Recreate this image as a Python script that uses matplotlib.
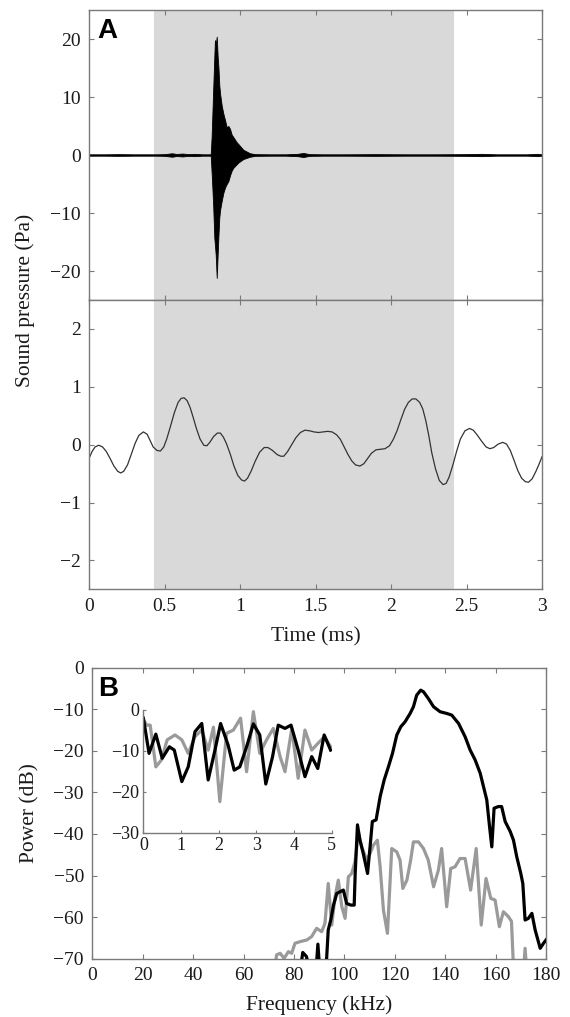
import numpy as np
import matplotlib
matplotlib.use('Agg')
import matplotlib.pyplot as plt

plt.rcParams['font.family'] = ['Liberation Serif', 'DejaVu Serif']
plt.rcParams['axes.unicode_minus'] = True

# --- panel A, top: click waveform envelope (Pa) ---
click_t = [0.0, 0.1, 0.2, 0.3, 0.4, 0.45, 0.5, 0.55, 0.58, 0.62, 0.66, 0.7, 0.75, 0.806,
           0.812, 0.817, 0.823, 0.830, 0.834, 0.839, 0.846, 0.852, 0.857, 0.863, 0.868,
           0.879, 0.890, 0.901, 0.912, 0.923, 0.934, 0.945, 0.956, 0.978, 0.989, 1.022,
           1.033, 1.066, 1.1, 1.2, 1.3, 1.38, 1.42, 1.46, 1.55, 1.7, 1.9, 2.1, 2.3, 2.5,
           2.6, 2.7, 2.8, 2.9, 2.97, 3.0]
click_hi = [0.12, 0.12, 0.15, 0.12, 0.12, 0.12, 0.15, 0.3, 0.18, 0.25, 0.15, 0.2, 0.12, 0.12,
            3.1, 7.0, 11.7, 17.0, 19.8, 19.0, 20.4, 17.0, 15.2, 12.0, 10.6,
            8.5, 7.1, 6.0, 4.8, 5.0, 4.5, 3.5, 3.1, 2.2, 1.9, 0.9,
            0.75, 0.3, 0.15, 0.12, 0.12, 0.2, 0.35, 0.15, 0.12, 0.12, 0.15, 0.12, 0.12, 0.15,
            0.2, 0.12, 0.12, 0.12, 0.2, 0.12]
click_lo = [-v for v in click_hi[:14]] + \
           [-3.0, -5.6, -9.1, -14.3, -15.5, -17.2, -21.2, -17.2, -14.0, -10.8, -9.5,
            -7.9, -6.5, -5.6, -5.0, -4.5, -3.5, -2.7, -2.2, -1.6, -1.3, -0.7,
            -0.6] + [-v for v in click_hi[37:]]

# --- panel A, bottom: low-frequency trace (Pa) ---
slow_t = [0.000, 0.020, 0.040, 0.065, 0.090, 0.115, 0.140, 0.165, 0.190, 0.210, 0.230, 0.255,
          0.281, 0.305, 0.330, 0.360, 0.385, 0.405, 0.425, 0.450, 0.473, 0.495, 0.515, 0.540,
          0.565, 0.590, 0.610, 0.630, 0.650, 0.670, 0.690, 0.710, 0.735, 0.760, 0.780, 0.800,
          0.825, 0.850, 0.870, 0.890, 0.910, 0.935, 0.960, 0.985, 1.010, 1.030, 1.050, 1.075,
          1.100, 1.130, 1.160, 1.185, 1.215, 1.245, 1.270, 1.290, 1.315, 1.340, 1.370, 1.400,
          1.430, 1.460, 1.490, 1.520, 1.550, 1.580, 1.610, 1.640, 1.665, 1.690, 1.715, 1.740,
          1.765, 1.794, 1.820, 1.845, 1.870, 1.900, 1.930, 1.960, 1.990, 2.015, 2.040, 2.065,
          2.090, 2.115, 2.140, 2.165, 2.190, 2.210, 2.230, 2.250, 2.270, 2.295, 2.320, 2.345,
          2.365, 2.385, 2.410, 2.435, 2.460, 2.490, 2.520, 2.545, 2.570, 2.600, 2.630, 2.655,
          2.680, 2.710, 2.740, 2.765, 2.790, 2.815, 2.840, 2.865, 2.890, 2.910, 2.935, 2.960,
          2.980, 3.000]
slow_p = [-0.24, -0.12, -0.04, -0.01, -0.04, -0.12, -0.24, -0.37, -0.46, -0.49, -0.46, -0.35,
          -0.16, 0.02, 0.16, 0.22, 0.18, 0.07, -0.04, -0.10, -0.11, -0.04, 0.10, 0.32,
          0.55, 0.73, 0.80, 0.81, 0.76, 0.64, 0.47, 0.29, 0.10, -0.01, -0.02, 0.04,
          0.14, 0.20, 0.20, 0.13, 0.02, -0.16, -0.37, -0.53, -0.61, -0.63, -0.58, -0.45,
          -0.29, -0.13, -0.05, -0.05, -0.10, -0.17, -0.20, -0.20, -0.12, -0.01, 0.12, 0.21,
          0.25, 0.24, 0.22, 0.21, 0.22, 0.23, 0.22, 0.17, 0.09, -0.04, -0.17, -0.28,
          -0.35, -0.37, -0.33, -0.24, -0.15, -0.09, -0.08, -0.07, -0.02, 0.09, 0.24, 0.43,
          0.61, 0.73, 0.79, 0.79, 0.73, 0.62, 0.42, 0.16, -0.14, -0.42, -0.62, -0.69,
          -0.67, -0.56, -0.35, -0.11, 0.10, 0.24, 0.28, 0.25, 0.17, 0.06, -0.04, -0.07,
          -0.05, 0.01, 0.04, 0.01, -0.10, -0.27, -0.45, -0.58, -0.64, -0.65, -0.59, -0.46,
          -0.34, -0.21]

window = (0.43, 2.42)

# --- panel B: power spectra (dB) ---
freq_k = [0, 20, 40, 60, 80, 82, 83.5, 85, 86.5, 88.5, 89.5, 90.5, 92.5, 93.6, 94.6,
          95.7, 97.0, 98.3, 99.6, 100.9, 102.5, 103.9, 104.3, 105.2, 106.2, 107.5, 109.2,
          110.2, 111.1, 112.6, 114.2, 115.8, 117.5, 119.1, 120.8, 122.4, 124.1, 126.1,
          127.4, 128.7, 130.3, 131.4, 133.3, 135.4, 138.0, 140.6, 142.6, 145.3, 147.9,
          149.9, 151.9, 153.9, 155.2, 156.5, 157.6, 158.5, 159.4, 161.1, 162.4, 163.8,
          165.8, 167.1, 168.4, 170.0, 170.8, 171.7, 173.0, 174.4, 175.7, 177.7, 179.0, 180]
power_k = [-75, -75, -75, -75, -75, -75, -68.5, -69.5, -75, -75, -66.5, -75, -75, -63.1, -60.7,
           -57.1, -54.3, -53.9, -53.5, -56.7, -57.1, -57.1, -49.5, -37.8, -41.5, -44.7, -49.5,
           -43.1, -37.0, -36.6, -31.0, -27.0, -23.8, -20.6, -16.2, -14.2, -13.0, -11.0,
           -9.4, -6.6, -5.4, -5.8, -7.4, -9.4, -10.6, -11.0, -11.4, -13.4, -16.6,
           -19.8, -22.2, -25.4, -28.6, -31.8, -38.2, -43.1, -33.8, -33.4, -33.4, -37.0,
           -39.4, -41.5, -45.5, -49.5, -51.9, -60.7, -60.3, -59.1, -63.1, -67.5, -66.3, -65.5]

freq_g = [0, 20, 40, 60, 72, 73.1, 74.5, 76.1, 77.8, 79.1, 80.4, 82.4, 85.1, 87.0, 89.0,
          91.0, 92.3, 93.6, 95.0, 96.3, 97.6, 99.0, 100.3, 101.6, 102.9, 104.2, 105.6,
          106.9, 108.9, 110.2, 111.5, 113.1, 114.2, 115.5, 117.1, 118.8, 120.8, 122.1,
          123.2, 124.8, 126.3, 127.4, 129.4, 131.4, 133.3, 135.4, 137.3, 138.6, 140.6,
          142.2, 143.9, 145.9, 147.9, 150.1, 152.3, 154.3, 156.2, 158.1, 159.8, 161.5,
          163.1, 165.1, 166.3, 167.3, 170.8, 171.7, 172.6, 180]
power_g = [-75, -75, -75, -75, -75, -69.1, -68.7, -69.9, -68.3, -68.7, -66.3, -65.9, -65.5, -64.7, -62.7,
           -63.5, -61.5, -51.9, -61.9, -55.1, -51.1, -57.5, -60.3, -50.3, -49.5, -46.7, -39.9,
           -43.1, -46.3, -44.7, -42.7, -41.5, -47.9, -58.3, -63.9, -43.5, -44.3, -46.3,
           -53.1, -51.1, -46.3, -41.9, -41.9, -43.5, -46.3, -52.7, -48.7, -43.5, -57.5,
           -48.3, -47.9, -45.9, -45.9, -53.5, -43.5, -61.9, -50.7, -55.5, -55.9, -62.3,
           -58.7, -59.9, -61.0, -75, -75, -67.5, -75, -75]

# inset: low-frequency part of spectra (kHz, dB)
inset_fk = [0, 0.15, 0.33, 0.50, 0.69, 0.82, 1.02, 1.19, 1.37, 1.55, 1.72, 1.90, 2.05, 2.25,
            2.41, 2.56, 2.74, 2.92, 3.09, 3.25, 3.43, 3.58, 3.76, 3.92, 4.11, 4.29, 4.47,
            4.63, 4.80, 4.97]
inset_pk = [-2.0, -10.6, -5.9, -11.8, -9.0, -9.8, -17.5, -13.9, -5.3, -3.3, -17.1, -9.8, -3.3, -8.6,
            -14.7, -13.9, -9.0, -3.4, -6.1, -18.1, -11.4, -3.7, -4.5, -3.7, -9.8, -16.3, -11.4,
            -14.3, -6.1, -9.8]
inset_fg = [0, 0.09, 0.18, 0.33, 0.48, 0.63, 0.84, 1.02, 1.19, 1.37, 1.55, 1.72, 1.86, 2.03,
            2.21, 2.39, 2.58, 2.74, 2.92, 3.09, 3.27, 3.45, 3.63, 3.76, 3.94, 4.11, 4.29, 4.47,
            4.64, 4.81, 4.97]
inset_pg = [-2.4, -3.7, -3.7, -13.9, -12.2, -7.3, -6.1, -7.3, -10.6, -6.5, -4.9, -9.8, -4.2, -22.4,
            -5.7, -4.9, -2.0, -15.1, -0.4, -10.6, -7.3, -4.5, -11.4, -15.1, -4.5, -16.7, -4.9, -9.8,
            -8.1, -6.5, -9.0]

spine_c = '#7a7a7a'
text_c = '#1a1a1a'
shade_c = '#d9d9d9'
grey_line = '#9a9a9a'


def style(ax, size=14, length=3.5):
    for s in ax.spines.values():
        s.set_color(spine_c)
        s.set_linewidth(1.0)
    ax.tick_params(direction='in', top=True, right=True, length=length, width=0.8,
                   color=spine_c, labelcolor=text_c, labelsize=size, pad=6)


fig = plt.figure(figsize=(5.7, 10.17), dpi=100)
W, H = 570.0, 1017.0

ax1 = fig.add_axes([89 / W, 1 - 300 / H, 453 / W, 290 / H])
ax2 = fig.add_axes([89 / W, 1 - 589.3 / H, 453 / W, 289.3 / H])
ax3 = fig.add_axes([92.3 / W, 1 - 958.7 / H, 453.7 / W, 291 / H])
ax4 = fig.add_axes([143.4 / W, 1 - 832.7 / H, 188.3 / W, 122.7 / H])

# top: click
ax1.axvspan(window[0], window[1], color=shade_c, lw=0, zorder=0)
ax1.fill_between(click_t, click_lo, click_hi, color='black', lw=0.6, zorder=2)
ax1.set_xlim(0, 3)
ax1.set_ylim(-25, 25)
ax1.set_xticks(np.arange(0, 3.01, 0.5))
ax1.set_xticklabels([])
ax1.set_yticks([-20, -10, 0, 10, 20])
style(ax1)

# middle: slow trace
ax2.axvspan(window[0], window[1], color=shade_c, lw=0, zorder=0)
ax2.plot(slow_t, slow_p, color='#333333', lw=0.9, zorder=2)
ax2.set_xlim(0, 3)
ax2.set_ylim(-2.5, 2.5)
ax2.set_xticks([0, 0.5, 1, 1.5, 2, 2.5, 3])
ax2.set_xticklabels(['0', '0.5', '1', '1.5', '2', '2.5', '3'])
ax2.set_yticks([-2, -1, 0, 1, 2])
style(ax2)

# bottom: spectra
ax3.plot(freq_g, power_g, color=grey_line, lw=2.3, zorder=2)
ax3.plot(freq_k, power_k, color='black', lw=2.3, zorder=3)
ax3.set_xlim(0, 180)
ax3.set_ylim(-70, 0)
ax3.set_xticks(np.arange(0, 181, 20))
ax3.set_yticks(np.arange(-70, 1, 10))
style(ax3)

# inset
ax4.patch.set_alpha(0)
ax4.plot(inset_fg, inset_pg, color=grey_line, lw=2.3)
ax4.plot(inset_fk, inset_pk, color='black', lw=2.3)
ax4.set_xlim(0, 5)
ax4.set_ylim(-30, 0)
ax4.set_xticks([0, 1, 2, 3, 4, 5])
ax4.set_yticks([-30, -20, -10, 0])
for s in ['top', 'right']:
    ax4.spines[s].set_visible(False)
for s in ['left', 'bottom']:
    ax4.spines[s].set_color(spine_c)
    ax4.spines[s].set_linewidth(1.0)
ax4.tick_params(direction='in', length=2, width=0.8, color=spine_c,
                labelcolor=text_c, labelsize=13, pad=3)

# labels
fig.text(25 / W, 1 - 300 / H, 'Sound pressure (Pa)', rotation=90, ha='center', va='center',
         fontsize=15.5, color=text_c)
fig.text(315.5 / W, 1 - 637 / H, 'Time (ms)', ha='center', va='center', fontsize=15.5, color=text_c)
fig.text(30 / W, 1 - 813 / H, 'Power (dB)', rotation=90, ha='center', va='center',
         fontsize=15.5, color=text_c)
fig.text(319 / W, 1 - 1005 / H, 'Frequency (kHz)', ha='center', va='center', fontsize=15.5,
         color=text_c)
fig.text(97 / W, 1 - 38.5 / H, 'A', ha='left', va='baseline', fontsize=20, fontweight='bold',
         family='Liberation Sans', color='black')
fig.text(98.5 / W, 1 - 696.5 / H, 'B', ha='left', va='baseline', fontsize=20, fontweight='bold',
         family='Liberation Sans', color='black')

fig.savefig('out.png', dpi=100)
